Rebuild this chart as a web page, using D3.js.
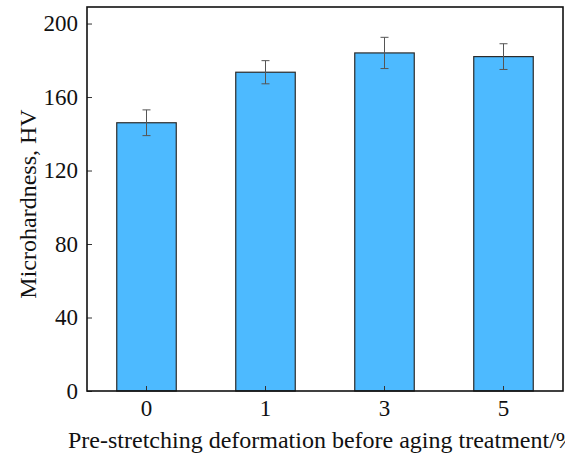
<!DOCTYPE html>
<html>
<head>
<meta charset="utf-8">
<script src="https://cdn.jsdelivr.net/npm/d3@7"></script>
<style>
  body { margin: 0; background: #fff; }
</style>
</head>
<body>
<svg id="chart" width="565" height="457"></svg>
<script>
// data
const categories = ["0", "1", "3", "5"];
const hardness = [146, 173.5, 184, 182];
const errors = [7, 6.3, 8.5, 7];
const yTicks = [0, 40, 80, 120, 160, 200];

const serif = "Liberation Serif";
const margin = { top: 7, right: 2, bottom: 66, left: 87 };
const width = 565, height = 457;

const svg = d3.select("#chart");

const x = d3.scaleBand()
    .domain(categories)
    .range([margin.left, width - margin.right])
    .paddingInner(0.5)
    .paddingOuter(0.25);

const y = d3.scaleLinear()
    .domain([0, 209])
    .range([height - margin.bottom, margin.top]);

const rows = categories.map((c, i) => ({ cat: c, v: hardness[i], e: errors[i] }));

// bars
svg.append("g")
    .selectAll("rect")
    .data(rows)
    .enter()
    .append("rect")
    .attr("x", d => x(d.cat))
    .attr("y", d => y(d.v))
    .attr("width", x.bandwidth())
    .attr("height", d => y(0) - y(d.v))
    .style("fill", "#4dbaff")
    .style("stroke", "#2b2b2b")
    .style("stroke-width", 1.2);

// error bars
const eb = svg.append("g")
    .style("stroke", "#555")
    .style("stroke-width", 1);

eb.selectAll("line.v")
    .data(rows)
    .enter()
    .append("line")
    .attr("class", "v")
    .attr("x1", d => x(d.cat) + x.bandwidth() / 2)
    .attr("x2", d => x(d.cat) + x.bandwidth() / 2)
    .attr("y1", d => y(d.v + d.e))
    .attr("y2", d => y(d.v - d.e));

eb.selectAll("line.cap")
    .data(rows.flatMap(d => [d.v + d.e, d.v - d.e].map(v => ({ cat: d.cat, v: v }))))
    .enter()
    .append("line")
    .attr("class", "cap")
    .attr("x1", d => x(d.cat) + x.bandwidth() / 2 - 4)
    .attr("x2", d => x(d.cat) + x.bandwidth() / 2 + 4)
    .attr("y1", d => y(d.v))
    .attr("y2", d => y(d.v));

// axes, ticks pointing inward
const yAxis = svg.append("g")
    .attr("transform", `translate(${margin.left},0)`)
    .call(d3.axisLeft(y).tickValues(yTicks).tickSizeInner(-5).tickSizeOuter(0).tickPadding(9));

const xAxis = svg.append("g")
    .attr("transform", `translate(0,${y(0)})`)
    .call(d3.axisBottom(x).tickSizeInner(-5).tickSizeOuter(0).tickPadding(9));

[yAxis, xAxis].forEach(g => {
    g.attr("font-family", serif).attr("font-size", 23);
    g.select(".domain").remove();
    g.selectAll(".tick line").attr("stroke", "#333");
    g.selectAll(".tick text").attr("fill", "#111");
});

// frame
svg.append("rect")
    .attr("x", margin.left)
    .attr("y", margin.top)
    .attr("width", width - margin.right - margin.left)
    .attr("height", y(0) - margin.top)
    .style("fill", "none")
    .style("stroke", "#111")
    .style("stroke-width", 1.6);

// axis titles
svg.append("text")
    .attr("transform", `translate(36,${(margin.top + y(0)) / 2 + 5}) rotate(-90)`)
    .attr("text-anchor", "middle")
    .attr("font-family", serif)
    .attr("font-size", 24)
    .attr("fill", "#111")
    .text("Microhardness, HV");

svg.append("text")
    .attr("x", 68)
    .attr("y", 448)
    .attr("font-family", serif)
    .attr("font-size", 24)
    .attr("fill", "#111")
    .text("Pre-stretching deformation before aging treatment/%");
</script>
</body>
</html>
